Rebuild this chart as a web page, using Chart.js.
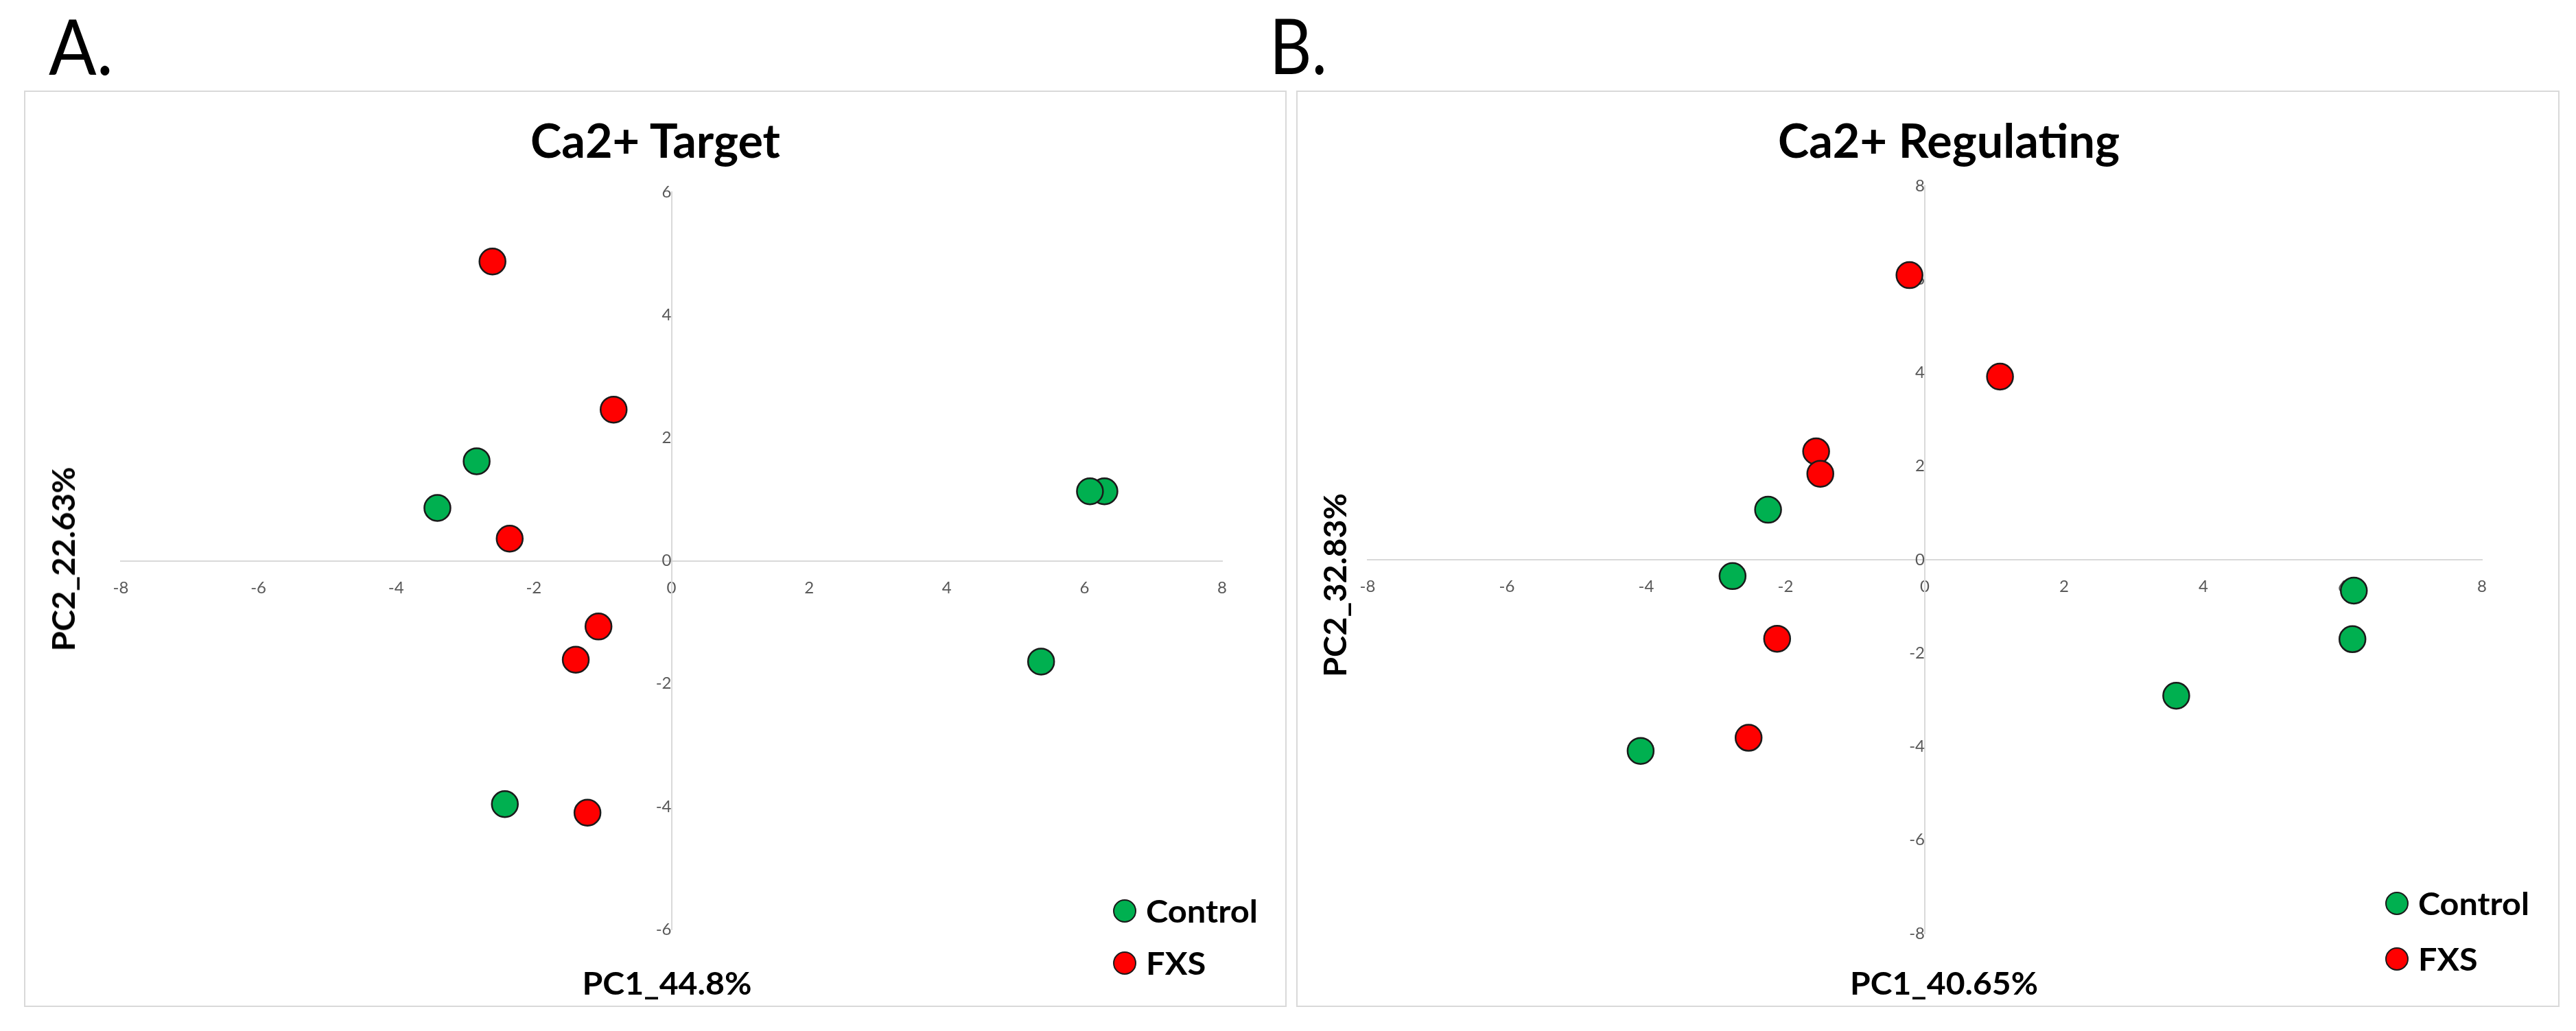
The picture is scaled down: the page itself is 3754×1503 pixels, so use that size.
<!DOCTYPE html>
<html><head><meta charset="utf-8">
<script src="https://cdn.jsdelivr.net/npm/chart.js@4.4.1/dist/chart.umd.min.js"></script>
<style>
html,body{margin:0;padding:0;background:#fff;}
body{width:3754px;height:1503px;position:relative;overflow:hidden;font-family:Lato,"Open Sans",sans-serif;}
.panel{position:absolute;border:2px solid #d9d9d9;box-sizing:border-box;}
canvas{position:absolute;}
.txt{position:absolute;white-space:nowrap;line-height:1;color:#000;font-family:Lato,sans-serif;}
.lg{position:absolute;}
.dot{position:absolute;border-radius:50%;box-sizing:border-box;border:2px solid #1a1a1a;}
</style></head>
<body>
<div class="panel" style="left:35px;top:132px;width:1840px;height:1336px;"></div>
<div class="panel" style="left:1889px;top:132px;width:1841px;height:1336px;"></div>
<canvas id="cA" width="1838" height="1334" style="left:36px;top:133px;width:1838px;height:1334px;"></canvas>
<canvas id="cB" width="1838" height="1334" style="left:1890px;top:133px;width:1838px;height:1334px;"></canvas>
<div id="texts"></div>
<script>
// ---------- data ----------
const groups = ['Control', 'FXS'];
const groupColors = ['#00B050', '#FF0000'];
const xTicks = [-8, -6, -4, -2, 0, 2, 4, 6, 8];
const yTicksA = [-6, -4, -2, 0, 2, 4, 6];
const yTicksB = [-8, -6, -4, -2, 0, 2, 4, 6, 8];

const titleA = 'Ca2+ Target';
const titleB = 'Ca2+ Regulating';
const xTitleA = 'PC1_44.8%';
const yTitleA = 'PC2_22.63%';
const xTitleB = 'PC1_40.65%';
const yTitleB = 'PC2_32.83%';

const controlA_PC1 = [-2.83, -3.40, 6.29, 6.08, 5.37, -2.42];
const controlA_PC2 = [1.62, 0.86, 1.13, 1.13, -1.64, -3.96];
const fxsA_PC1 = [-2.60, -0.84, -2.35, -1.06, -1.39, -1.22];
const fxsA_PC2 = [4.87, 2.46, 0.36, -1.07, -1.61, -4.10];

const controlB_PC1 = [-2.25, -2.76, 6.16, 6.14, 3.61, -4.08];
const controlB_PC2 = [1.07, -0.35, -0.66, -1.70, -2.91, -4.09];
const fxsB_PC1 = [-0.22, 1.08, -1.56, -1.50, -2.12, -2.53];
const fxsB_PC2 = [6.09, 3.92, 2.32, 1.84, -1.69, -3.81];

// ---------- chart builder ----------
function pts(xs, ys) { return xs.map((x, i) => ({ x: x, y: ys[i] })); }

function makeChart(id, cx, cy, fx, fy, yTicks, pad) {
  const tickFont = { family: 'Lato', size: 24 };
  const axis = (ticks, pos, padding) => ({
    type: 'linear',
    min: Math.min(...ticks), max: Math.max(...ticks),
    position: pos,
    afterBuildTicks: s => { s.ticks = ticks.map(v => ({ value: v })); },
    ticks: { font: tickFont, color: '#595959', padding: padding },
    grid: { display: false, drawTicks: false },
    border: { display: true, color: '#d9d9d9', width: 2 }
  });
  return new Chart(document.getElementById(id), {
    type: 'scatter',
    data: {
      datasets: [
        { label: groups[0], data: pts(cx, cy), backgroundColor: groupColors[0], borderColor: '#1a1a1a', borderWidth: 2.5, pointRadius: 19, pointHoverRadius: 19 },
        { label: groups[1], data: pts(fx, fy), backgroundColor: groupColors[1], borderColor: '#1a1a1a', borderWidth: 2.5, pointRadius: 19, pointHoverRadius: 19 }
      ]
    },
    options: {
      responsive: false, animation: false, devicePixelRatio: 1,
      layout: { padding: pad, autoPadding: false },
      plugins: { legend: { display: false }, title: { display: false }, tooltip: { enabled: false } },
      scales: {
        x: axis(xTicks, { y: 0 }, 25),
        y: axis(yTicks, { x: 0 }, 30)
      }
    }
  });
}

// ---------- text helpers ----------
const host = document.getElementById('texts');
function addText(str, o) {
  const el = document.createElement('div');
  el.className = 'txt';
  el.textContent = str;
  el.style.fontSize = o.size + 'px';
  el.style.fontWeight = o.weight || 400;
  el.style.left = o.x + 'px';
  el.style.top = o.y + 'px';
  host.appendChild(el);
  const w = el.getBoundingClientRect().width;
  const s = o.w ? o.w / w : 1;
  if (o.anchor === 'left') {
    el.style.transformOrigin = '0 50%';
    el.style.transform = 'translateY(-50%) scaleX(' + s + ')';
  } else if (o.rot) {
    el.style.transform = 'translate(-50%,-50%) rotate(-90deg) scaleX(' + s + ')';
  } else {
    el.style.transform = 'translate(-50%,-50%) scaleX(' + s + ')';
  }
  return s;
}
function addLegend(x, y0, gap, w) {
  let s = null;
  groups.forEach((g, i) => {
    const d = document.createElement('div');
    d.className = 'dot';
    const r = 17;
    d.style.left = (x - r) + 'px'; d.style.top = (y0 + i * gap - r) + 'px';
    d.style.width = (2 * r) + 'px'; d.style.height = (2 * r) + 'px';
    d.style.background = groupColors[i];
    host.appendChild(d);
    const el = document.createElement('div');
    el.className = 'txt';
    el.textContent = g;
    el.style.fontSize = '46px'; el.style.fontWeight = 700;
    el.style.left = (x + 31) + 'px'; el.style.top = (y0 + i * gap) + 'px';
    host.appendChild(el);
    if (s === null) s = w / el.getBoundingClientRect().width;
    el.style.transformOrigin = '0 50%';
    el.style.transform = 'translateY(-50%) scaleX(' + s + ')';
  });
}

function build() {
  makeChart('cA', controlA_PC1, controlA_PC2, fxsA_PC1, fxsA_PC2, yTicksA, { left: 140, right: 93, top: 147, bottom: 112 });
  makeChart('cB', controlB_PC1, controlB_PC2, fxsB_PC1, fxsB_PC2, yTicksB, { left: 103, right: 111, top: 138, bottom: 106 });

  addText('A.', { x: 118, y: 66, size: 112, w: 94 });
  addText('B.', { x: 1892, y: 65, size: 112, w: 84 });
  addText(titleA, { x: 955, y: 204, size: 68, weight: 700, w: 364 });
  addText(titleB, { x: 2840, y: 204, size: 68, weight: 700, w: 498 });
  addText(xTitleA, { x: 972, y: 1433, size: 46, weight: 700, w: 247 });
  addText(xTitleB, { x: 2833, y: 1433, size: 46, weight: 700, w: 274 });
  addText(yTitleA, { x: 92, y: 815, size: 46, weight: 700, w: 269, rot: true });
  addText(yTitleB, { x: 1945, y: 853, size: 46, weight: 700, w: 268, rot: true });
  addLegend(1639, 1328, 76, 163);
  addLegend(3493, 1317, 81, 162);
}

if (document.fonts && document.fonts.load) {
  Promise.all([document.fonts.load('24px Lato'), document.fonts.load('700 46px Lato')]).then(build, build);
} else { build(); }
</script>
</body></html>
